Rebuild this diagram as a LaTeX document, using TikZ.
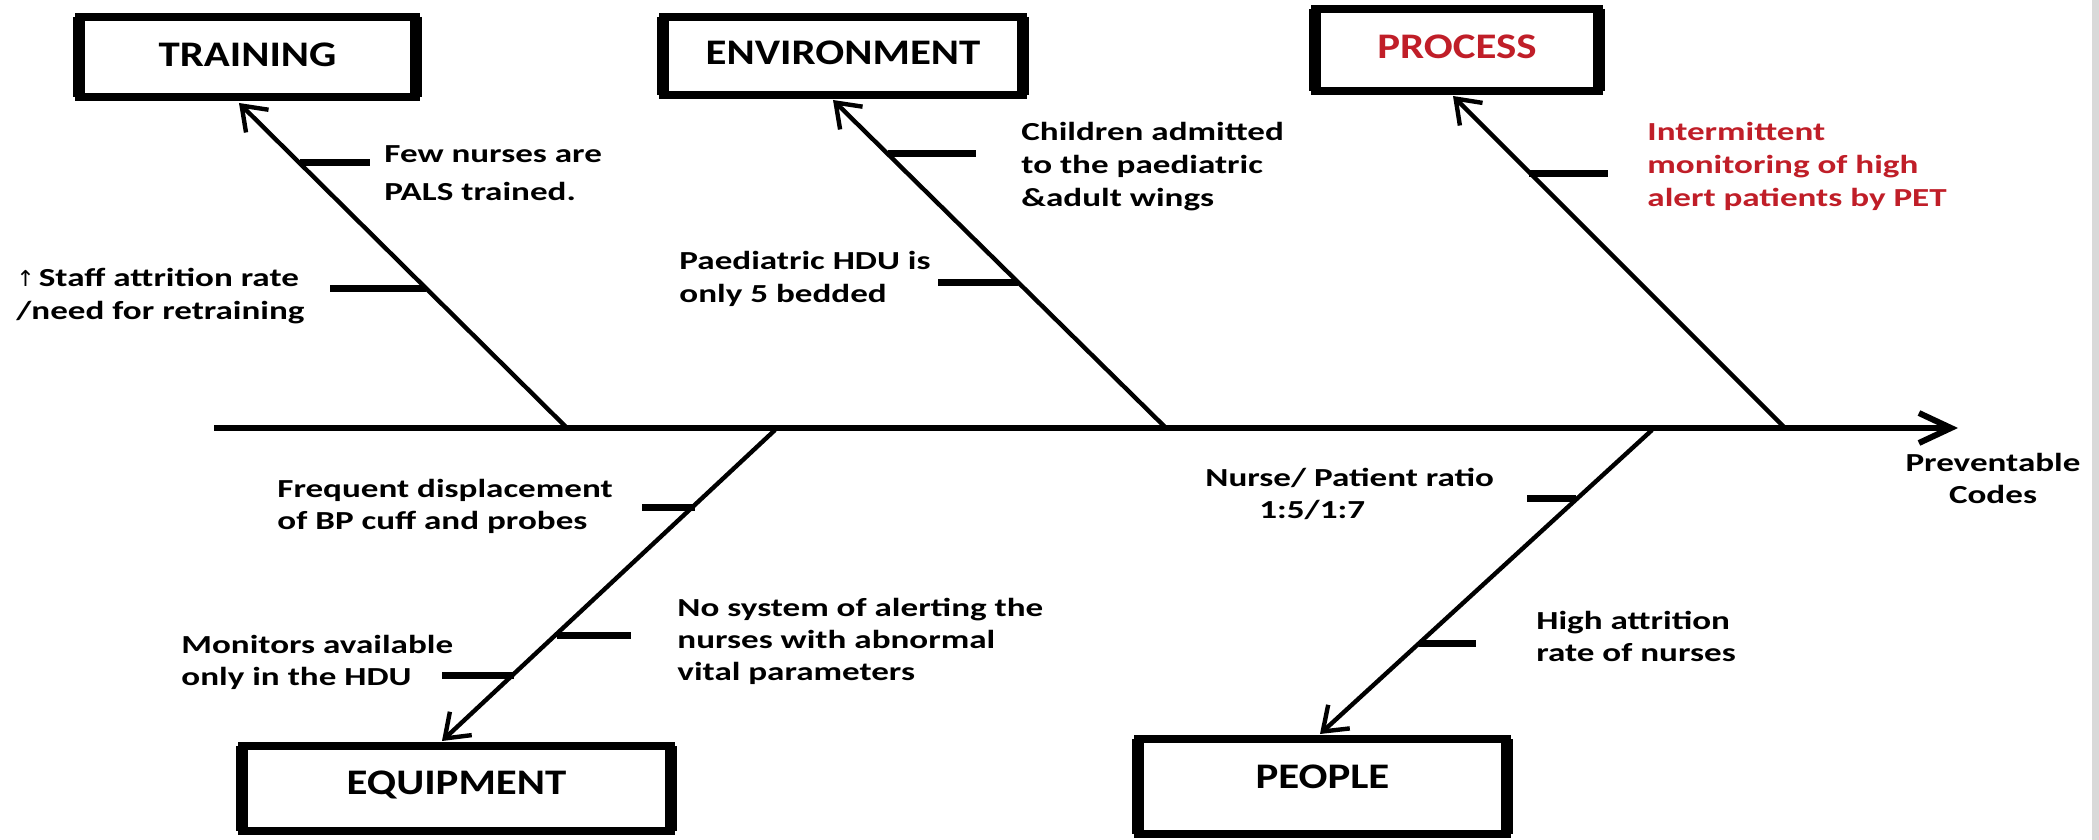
\documentclass[tikz,border=0pt]{standalone}
\usepackage{fontspec}
\usetikzlibrary{arrows.meta}
\newfontfamily\bodyf[FakeStretch=1.35]{Carlito}
\newfontfamily\headf[FakeStretch=1.19]{Carlito}
\newfontfamily\symf{DejaVu Sans}
\definecolor{procred}{RGB}{192,30,40}
\begin{document}
\begin{tikzpicture}[x=0.5pt,y=-0.5pt,
  box/.style={draw=black, line width=4pt, inner sep=0pt, outer sep=0pt, fill=white,
              font=\headf\bfseries\fontsize{18}{20}\selectfont, text height=11.6pt},
  vside/.style={line width=6pt},
  lbl/.style={inner sep=0pt, align=left, anchor=west, font=\bodyf\bfseries\fontsize{13}{16.5}\selectfont},
  lowlbl/.style={lbl, font=\bodyf\bfseries\fontsize{13}{16}\selectfont},
  bone/.style={line width=2.2pt, -{Straight Barb[length=11pt,width=16pt]}},
  spine/.style={line width=3pt, -{Straight Barb[length=16pt,width=15pt]}},
  tick/.style={line width=3.5pt}
]
\useasboundingbox (0,0) rectangle (2099,840);
\fill[white] (0,0) rectangle (2099,840);
\fill[black!15] (2092,0) rectangle (2099,840);

% category boxes
\node[box, text depth=2.5pt, minimum width=168.5pt, minimum height=40pt] (train) at (247.5,57) {TRAINING};
\node[box, text depth=3pt, minimum width=180pt, minimum height=39pt] (env) at (843,56) {ENVIRONMENT};
\node[box, text depth=3pt, minimum width=142pt, minimum height=41pt, text=procred] (proc) at (1457,50) {PROCESS};
\node[box, text depth=5.5pt, minimum width=214.5pt, minimum height=42.5pt] (equip) at (456.5,788.5) {EQUIPMENT};
\node[box, text depth=9.5pt, minimum width=184.5pt, minimum height=47.5pt] (people) at (1322.5,786.5) {PEOPLE};
\foreach \n in {train,env,proc,equip,people}
  \draw[vside] (\n.north west) -- (\n.south west) (\n.north east) -- (\n.south east);

% spine
\coordinate (sstart) at (214,428);
\coordinate (send) at (1958,428);
\draw[spine] (sstart) -- (send);

% bones
\coordinate (tb) at (567,428);  \coordinate (tt) at (239,103);
\coordinate (eb) at (1166,428); \coordinate (et) at (833,100);
\coordinate (pb) at (1785,428); \coordinate (pt) at (1453,96);
\coordinate (qb) at (775,430);  \coordinate (qt) at (442,741);
\coordinate (ob) at (1652,430); \coordinate (ot) at (1320,734);
\draw[bone] (tb) -- (tt);
\draw[bone] (eb) -- (et);
\draw[bone] (pb) -- (pt);
\draw[bone] (qb) -- (qt);
\draw[bone] (ob) -- (ot);

% ticks
\draw[tick] (300,163) -- (370,163);
\draw[tick] (330,288) -- (426,288);
\draw[tick] (888,154) -- (976,154);
\draw[tick] (938,282) -- (1018,282);
\draw[tick] (1529,173) -- (1608,173);
\draw[tick] (642,507) -- (695,507);
\draw[tick] (557,635) -- (631,635);
\draw[tick] (442,675) -- (514,675);
\draw[tick] (1527,498) -- (1576,498);
\draw[tick] (1419,643) -- (1476,643);

% cause labels
\node[lbl] (c1) at (384,173.5) {Few nurses are\\[2.5pt]PALS trained.};
\node[lbl] (c2) at (16,296) {{\symf\mdseries\fontsize{11}{13}\selectfont\textuparrow}\kern2pt Staff attrition rate\\/need for retraining};
\node[lbl] (c3) at (1021,167) {Children admitted\\to the paediatric\\\&adult wings};
\node[lbl] (c4) at (679,279) {Paediatric HDU is\\only 5 bedded};
\node[lbl, text=procred] (c5) at (1647,166) {Intermittent\\monitoring of high\\alert patients by PET};
\node[lowlbl] (c6) at (277,506) {Frequent displacement\\of BP cuff and probes};
\node[lowlbl] (c7) at (677,641) {No system of alerting the\\nurses with abnormal\\vital parameters};
\node[lowlbl] (c8) at (181,662) {Monitors available\\only in the HDU};
\node[lowlbl] (c9) at (1205,494) {Nurse/ Patient ratio\\\hspace*{27pt}1:5/1:7};
\node[lowlbl] (c10) at (1536,636) {High attrition\\rate of nurses};
\node[lowlbl, align=center, anchor=center] (effect) at (1993,478) {Preventable\\Codes};
\end{tikzpicture}
\end{document}
